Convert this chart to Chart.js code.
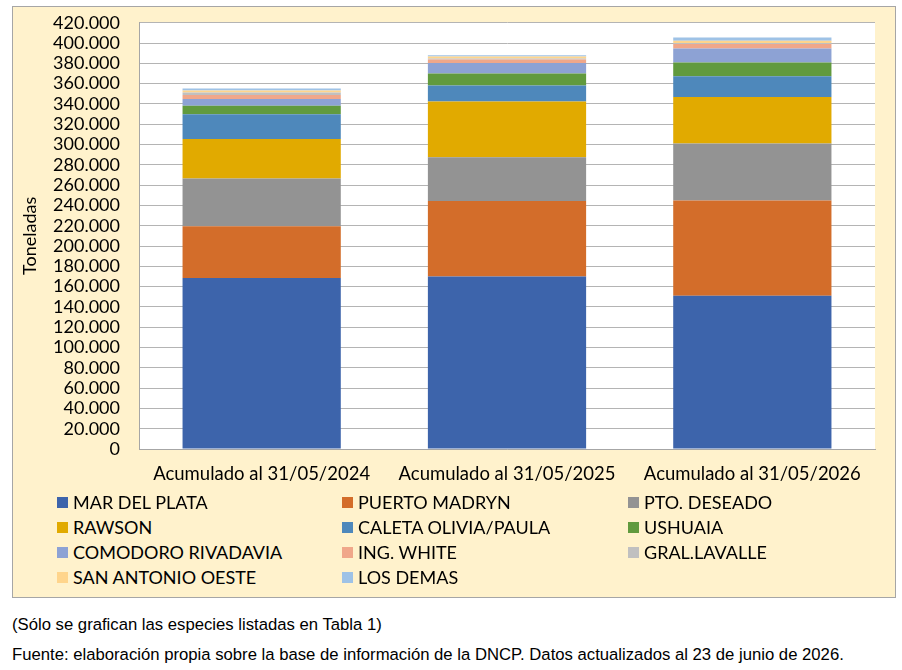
<!DOCTYPE html>
<html lang="es">
<head>
<meta charset="utf-8">
<title>Desembarques por puerto</title>
<script src="https://cdn.jsdelivr.net/npm/chart.js@4/dist/chart.umd.min.js"></script>
<style>
    body { margin: 0; width: 902px; height: 670px; background: #fff; position: relative; font-family: Lato, sans-serif; }
    .marco { position: absolute; left: 12px; top: 6px; width: 882px; height: 590px; border: 1px solid #a6a6a6; background: #fff2cc; }
    #grafico { position: absolute; left: 13px; top: -7px; }
    .leyenda { position: absolute; left: 0; top: 0; }
    .leyenda div { position: absolute; font-size: 18px; line-height: 20px; color: #000; white-space: nowrap; }
    .leyenda span { position: absolute; left: 0; top: 5px; width: 11px; height: 11px; }
    .nota { position: absolute; left: 12px; font-family: "Liberation Sans", Arial, sans-serif; font-size: 16.7px; color: #000; white-space: nowrap; }
</style>
</head>
<body>
<div class="marco"></div>
<canvas id="grafico" width="882" height="499"></canvas>
<div class="leyenda" id="leyenda"></div>
<div class="nota" style="top: 615px;">(Sólo se grafican las especies listadas en Tabla 1)</div>
<div class="nota" style="top: 645px;">Fuente: elaboración propia sobre la base de información de la DNCP. Datos actualizados al 23 de junio de 2026.</div>
<script>
// categorias del eje X
const periodos = ["Acumulado al 31/05/2024", "Acumulado al 31/05/2025", "Acumulado al 31/05/2026"];

// toneladas por puerto
const marDelPlata = [168500, 170000, 151000];
const puertoMadryn = [51000, 74500, 94000];
const ptoDeseado = [47000, 43000, 56000];
const rawson = [39000, 55000, 46000];
const caletaOlivia = [24500, 15700, 20300];
const ushuaia = [8300, 11800, 13700];
const comodoroRivadavia = [6500, 10400, 13700];
const ingWhite = [4000, 3500, 4500];
const gralLavalle = [2500, 1000, 1000];
const sanAntonioOeste = [2000, 1800, 2000];
const losDemas = [2000, 1200, 3300];

const puertos = ["MAR DEL PLATA", "PUERTO MADRYN", "PTO. DESEADO", "RAWSON", "CALETA OLIVIA/PAULA", "USHUAIA",
    "COMODORO RIVADAVIA", "ING. WHITE", "GRAL.LAVALLE", "SAN ANTONIO OESTE", "LOS DEMAS"];
const series = [marDelPlata, puertoMadryn, ptoDeseado, rawson, caletaOlivia, ushuaia,
    comodoroRivadavia, ingWhite, gralLavalle, sanAntonioOeste, losDemas];
const colores = ["#3d64ab", "#d36d2a", "#939393", "#e1aa00", "#4e88bb", "#619a3e",
    "#8da2d4", "#f0a78a", "#c0c0c0", "#ffd58c", "#9ec2e6"];

// ticks del eje Y
const tickMax = 420000;
const tickPaso = 20000;

function formatoMiles(v) {
    return String(v).replace(/\B(?=(\d{3})+(?!\d))/g, ".");
}

const datasets = [];
for (let i = 0; i < puertos.length; i++) {
    datasets.push({
        label: puertos[i],
        data: series[i],
        backgroundColor: colores[i],
        borderWidth: 0,
        barPercentage: 0.645,
        categoryPercentage: 1
    });
}

// fondo blanco del area de trazado
const fondoBlanco = {
    id: "fondoBlanco",
    beforeDraw(chart) {
        const a = chart.chartArea;
        const ctx = chart.ctx;
        ctx.save();
        ctx.fillStyle = "#ffffff";
        ctx.fillRect(a.left, a.top, a.right - a.left, a.bottom - a.top);
        ctx.restore();
    }
};

const fuente = { family: "Lato", size: 18 };

new Chart(document.querySelector("#grafico"), {
    type: "bar",
    data: { labels: periodos, datasets: datasets },
    plugins: [fondoBlanco],
    options: {
        responsive: false,
        animation: false,
        layout: { padding: { left: 0, right: 20, top: 0, bottom: 0 } },
        plugins: {
            legend: { display: false },
            tooltip: { enabled: false }
        },
        scales: {
            x: {
                stacked: true,
                grid: { display: false, drawTicks: false },
                border: { display: true, color: "#a6a6a6", width: 1 },
                ticks: { color: "#000", font: { family: "Lato", size: 18.5 }, padding: 14, maxRotation: 0 },
                afterFit(s) { s.height = 43; }
            },
            y: {
                stacked: true,
                min: 0,
                max: tickMax,
                grid: { color: "#b4b4b4", lineWidth: 1, drawTicks: false },
                border: { display: true, color: "#a6a6a6", width: 1 },
                ticks: {
                    stepSize: tickPaso,
                    autoSkip: false,
                    color: "#000",
                    font: fuente,
                    padding: 19,
                    callback: v => formatoMiles(v)
                },
                title: { display: true, text: "Toneladas", color: "#000", font: fuente, padding: { top: 6, bottom: 0 } },
                afterFit(s) { s.width = 126; }
            }
        }
    }
});

// leyenda en tres columnas
const leyenda = document.querySelector("#leyenda");
const colX = [57, 342, 628];
const filaY = [492, 517, 542, 567];
for (let i = 0; i < puertos.length; i++) {
    const item = document.createElement("div");
    item.style.left = colX[i % 3] + "px";
    item.style.top = filaY[Math.floor(i / 3)] + "px";
    item.style.paddingLeft = "16px";
    item.innerHTML = `<span style="background:${colores[i]}"></span>${puertos[i]}`;
    leyenda.appendChild(item);
}
</script>
</body>
</html>
